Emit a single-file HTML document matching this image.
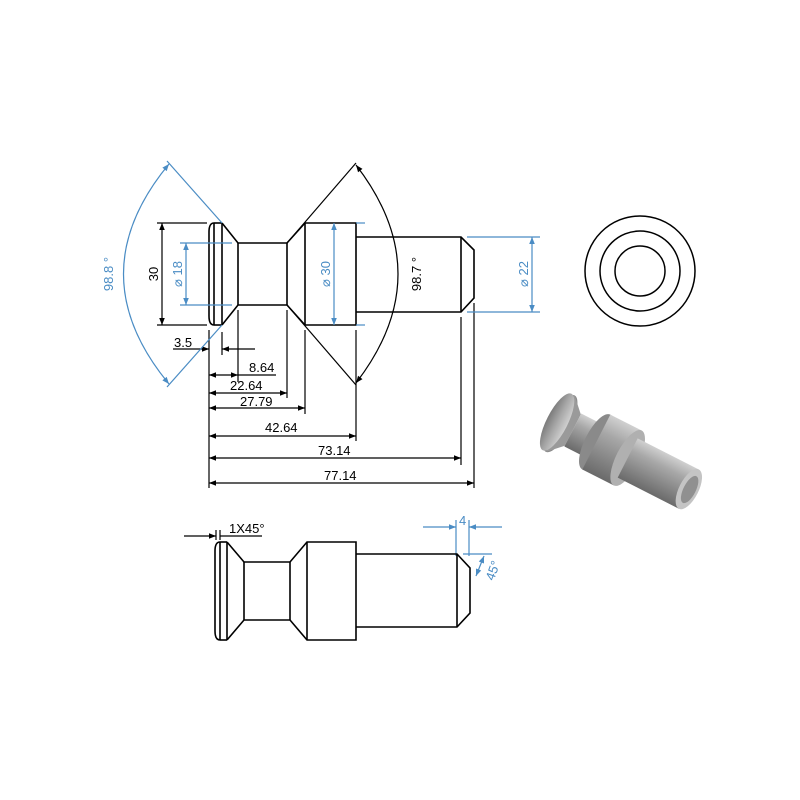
<!DOCTYPE html>
<html><head><meta charset="utf-8"><style>
html,body{margin:0;padding:0;background:#fff;}
svg{display:block;}
text{font-family:"Liberation Sans",sans-serif;}
</style></head><body>
<svg width="800" height="800" viewBox="0 0 800 800" xmlns="http://www.w3.org/2000/svg">
<defs>
<marker id="ak" viewBox="0 0 10 10" refX="10" refY="5" markerWidth="9" markerHeight="7" orient="auto-start-reverse" markerUnits="userSpaceOnUse"><path d="M0,1 L10,5 L0,9 z" fill="#000"/></marker>
<marker id="ab" viewBox="0 0 10 10" refX="10" refY="5" markerWidth="9" markerHeight="7" orient="auto-start-reverse" markerUnits="userSpaceOnUse"><path d="M0,1 L10,5 L0,9 z" fill="#4a8cc4"/></marker>
<linearGradient id="g1" x1="0" y1="0" x2="0" y2="1">
<stop offset="0" stop-color="#d0d0d0"/><stop offset="0.3" stop-color="#a8a8a8"/><stop offset="1" stop-color="#6a6a6a"/></linearGradient>
<linearGradient id="g2" x1="0" y1="0" x2="1" y2="0">
<stop offset="0" stop-color="#7a7a7a"/><stop offset="0.5" stop-color="#a8a8a8"/><stop offset="1" stop-color="#d0d0d0"/></linearGradient>
</defs>

<!-- TOP VIEW part -->
<g fill="none" stroke="#000" stroke-width="1.6">
<path d="M214,223 Q209,223 209,232 L209,316 Q209,325 214,325"/>
<line x1="214" y1="223" x2="222" y2="223"/><line x1="214" y1="325" x2="222" y2="325"/>
<line x1="214" y1="223" x2="214" y2="325"/>
<line x1="222" y1="223" x2="222" y2="325"/>
<path d="M222,223 L238,243 L287,243 L305,223 L356,223 L356,325 L305,325 L287,305 L238,305 L222,325"/>
<line x1="238" y1="243" x2="238" y2="305"/>
<line x1="287" y1="243" x2="287" y2="305"/>
<line x1="305" y1="223" x2="305" y2="325"/>
<path d="M356,237 L461,237 L474,250 L474,298 L461,312 L356,312"/>
<line x1="461" y1="237" x2="461" y2="312"/>
</g>

<!-- black dims -->
<g stroke="#000" stroke-width="1.2" fill="none">
<line x1="157" y1="223" x2="207" y2="223"/><line x1="157" y1="325" x2="207" y2="325"/>
<line x1="162" y1="223" x2="162" y2="325" marker-start="url(#ak)" marker-end="url(#ak)"/>
<line x1="287" y1="243" x2="356" y2="163"/>
<line x1="287" y1="305" x2="356" y2="385"/>
<path d="M356,165 Q440,274 356,383" marker-start="url(#ak)" marker-end="url(#ak)"/>
<line x1="209" y1="330" x2="209" y2="488"/>
<line x1="222" y1="332" x2="222" y2="355"/>
<line x1="238" y1="310" x2="238" y2="382"/>
<line x1="287" y1="310" x2="287" y2="398"/>
<line x1="305" y1="330" x2="305" y2="414"/>
<line x1="356" y1="330" x2="356" y2="441"/>
<line x1="461" y1="317" x2="461" y2="465"/>
<line x1="474" y1="303" x2="474" y2="488"/>
<line x1="173" y1="349" x2="209" y2="349" marker-end="url(#ak)"/>
<line x1="255" y1="349" x2="222" y2="349" marker-end="url(#ak)"/>
<line x1="209" y1="375" x2="238" y2="375" marker-start="url(#ak)" marker-end="url(#ak)"/>
<line x1="238" y1="375" x2="276" y2="375"/>
<line x1="209" y1="393" x2="287" y2="393" marker-start="url(#ak)" marker-end="url(#ak)"/>
<line x1="209" y1="408" x2="305" y2="408" marker-start="url(#ak)" marker-end="url(#ak)"/>
<line x1="209" y1="436" x2="356" y2="436" marker-start="url(#ak)" marker-end="url(#ak)"/>
<line x1="209" y1="458" x2="461" y2="458" marker-start="url(#ak)" marker-end="url(#ak)"/>
<line x1="209" y1="483" x2="474" y2="483" marker-start="url(#ak)" marker-end="url(#ak)"/>
</g>
<g font-size="13" fill="#000">
<text x="174" y="347">3.5</text>
<text x="249" y="372">8.64</text>
<text x="230" y="390">22.64</text>
<text x="240" y="406">27.79</text>
<text x="265" y="432">42.64</text>
<text x="318" y="455">73.14</text>
<text x="324" y="480">77.14</text>
<text transform="translate(158,274) rotate(-90)" text-anchor="middle">30</text>
<text transform="translate(421,274) rotate(-90)" text-anchor="middle">98.7 °</text>
</g>

<!-- blue dims -->
<g stroke="#4a8cc4" stroke-width="1.2" fill="none">
<line x1="167" y1="161" x2="222" y2="223"/>
<line x1="222" y1="325" x2="167" y2="387"/>
<path d="M169,164 Q78,274 169,384" marker-start="url(#ab)" marker-end="url(#ab)"/>
<line x1="180" y1="243" x2="232" y2="243"/><line x1="180" y1="305" x2="232" y2="305"/>
<line x1="186" y1="243" x2="186" y2="305" marker-start="url(#ab)" marker-end="url(#ab)"/>
<line x1="356" y1="223" x2="365" y2="223"/><line x1="356" y1="325" x2="365" y2="325"/>
<line x1="334" y1="223" x2="334" y2="325" marker-start="url(#ab)" marker-end="url(#ab)"/>
<line x1="467" y1="237" x2="540" y2="237"/><line x1="467" y1="312" x2="540" y2="312"/>
<line x1="532" y1="237" x2="532" y2="312" marker-start="url(#ab)" marker-end="url(#ab)"/>
<line x1="456" y1="520" x2="456" y2="556"/><line x1="469" y1="520" x2="469" y2="556"/>
<line x1="423" y1="527" x2="456" y2="527" marker-end="url(#ab)"/>
<line x1="502" y1="527" x2="469" y2="527" marker-end="url(#ab)"/>
<line x1="463" y1="554" x2="492" y2="554"/>
<line x1="476" y1="576" x2="484" y2="556" marker-start="url(#ab)" marker-end="url(#ab)"/>
</g>
<g font-size="13" fill="#4a8cc4">
<text transform="translate(113,274) rotate(-90)" text-anchor="middle">98.8 °</text>
<text transform="translate(182,274) rotate(-90)" text-anchor="middle">⌀ 18</text>
<text transform="translate(330,274) rotate(-90)" text-anchor="middle">⌀ 30</text>
<text transform="translate(528,274) rotate(-90)" text-anchor="middle">⌀ 22</text>
<text x="459" y="525">4</text>
<text transform="translate(497,572) rotate(-70)" text-anchor="middle">45°</text>
</g>

<!-- end view circles -->
<g fill="none" stroke="#000" stroke-width="1.5">
<circle cx="640" cy="271" r="55"/>
<circle cx="640" cy="271" r="40"/>
<circle cx="640" cy="271" r="25"/>
</g>

<!-- BOTTOM VIEW -->
<g fill="none" stroke="#000" stroke-width="1.6">
<path d="M220,542 Q215,542 215,551 L215,631 Q215,640 220,640"/>
<line x1="220" y1="542" x2="227" y2="542"/><line x1="220" y1="640" x2="227" y2="640"/>
<line x1="220" y1="542" x2="220" y2="640"/>
<line x1="227" y1="542" x2="227" y2="640"/>
<path d="M227,542 L244,562 L290,562 L307,542 L356,542 L356,640 L307,640 L290,620 L244,620 L227,640"/>
<line x1="244" y1="562" x2="244" y2="620"/>
<line x1="290" y1="562" x2="290" y2="620"/>
<line x1="307" y1="542" x2="307" y2="640"/>
<path d="M356,554 L457,554 L470,568 L470,613 L457,627 L356,627"/>
<line x1="457" y1="554" x2="457" y2="627"/>
</g>
<g stroke="#000" stroke-width="1.2" fill="none">
<line x1="184" y1="536" x2="216" y2="536" marker-end="url(#ak)"/>
<line x1="216" y1="530" x2="216" y2="540"/><line x1="220" y1="530" x2="220" y2="540"/>
<line x1="220" y1="536" x2="262" y2="536"/>
</g>
<text x="229" y="533" font-size="13">1X45°</text>

<!-- 3D isometric part -->
<g transform="translate(612,450) rotate(27) scale(0.88)">
<!-- head back -->
<ellipse cx="-66" cy="0" rx="12" ry="36" fill="#8a8a8a"/>
<path d="M-66,-36 L-50,-20 L-50,20 L-66,36 z" fill="#9a9a9a"/>
<ellipse cx="-70" cy="0" rx="12" ry="36" fill="url(#g2)"/>
<!-- neck -->
<rect x="-50" y="-21" width="30" height="42" fill="url(#g1)"/>
<!-- collar -->
<ellipse cx="-20" cy="0" rx="13" ry="35" fill="#8a8a8a"/>
<rect x="-20" y="-35" width="40" height="70" fill="url(#g1)"/>
<ellipse cx="20" cy="0" rx="13" ry="35" fill="#b0b0b0"/>
<!-- shaft -->
<rect x="20" y="-25" width="78" height="50" fill="url(#g1)"/>
<ellipse cx="98" cy="0" rx="11" ry="25" fill="#c4c4c4"/>
<ellipse cx="99" cy="0" rx="7" ry="17" fill="#909090"/>
</g>
</svg>
</body></html>
